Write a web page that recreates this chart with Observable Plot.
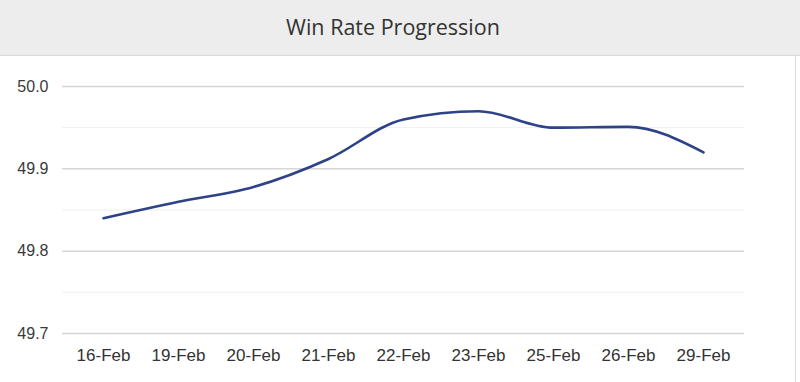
<!DOCTYPE html>
<html>
<head>
<meta charset="utf-8">
<script src="https://cdn.jsdelivr.net/npm/d3@7"></script>
<script src="https://cdn.jsdelivr.net/npm/@observablehq/plot@0.6"></script>
<style>
  html, body { margin: 0; padding: 0; background: #fff; }
  #wrap { width: 800px; height: 382px; position: relative; overflow: hidden; }
  #title {
    width: 800px; height: 56px; background: #ededed;
    border-bottom: 1px solid #d9d9d9; box-sizing: border-box;
    font-family: "Open Sans", sans-serif; font-size: 21.5px; color: #333;
    text-align: center; line-height: 54px; padding-right: 14px;
  }
  #chart { width: 795px; height: 326px; border-right: 1px solid #dcdcdc; }
  #chart svg { display: block; }
</style>
</head>
<body>
<div id="wrap">
  <div id="title">Win Rate Progression</div>
  <div id="chart"></div>
</div>
<script>
const dates = ["16-Feb", "19-Feb", "20-Feb", "21-Feb", "22-Feb", "23-Feb", "25-Feb", "26-Feb", "29-Feb"];
const winRate = [49.84, 49.86, 49.878, 49.912, 49.96, 49.97, 49.95, 49.951, 49.92];
const yTicks = [49.7, 49.8, 49.9, 50.0];
const yMinorTicks = [49.75, 49.85, 49.95];

const data = dates.map((d, i) => ({date: d, value: winRate[i]}));

const plot = Plot.plot({
  width: 795,
  height: 326,
  marginLeft: 62,
  marginRight: 51,
  marginTop: 30,
  marginBottom: 49,
  style: {fontFamily: "'Liberation Sans', Arial, sans-serif", background: "transparent"},
  x: {type: "point", domain: dates, padding: 0.5, label: null},
  y: {domain: [49.7, 50.0], label: null},
  marks: [
    Plot.ruleY(yMinorTicks, {stroke: "#efefef", strokeWidth: 1}),
    Plot.ruleY(yTicks, {stroke: "#d6d6d6", strokeWidth: 1.5}),
    Plot.axisY({ticks: yTicks, tickFormat: d3.format(".1f"), tickSize: 0, tickPadding: 14, fontSize: 16, color: "#3a3a3a", label: null}),
    Plot.axisX({tickSize: 0, tickPadding: 15, fontSize: 17, color: "#333", label: null}),
    Plot.line(data, {x: "date", y: "value", stroke: "#2d4287", strokeWidth: 2.6, curve: "monotone-x"})
  ]
});
document.getElementById("chart").appendChild(plot);
</script>
</body>
</html>
